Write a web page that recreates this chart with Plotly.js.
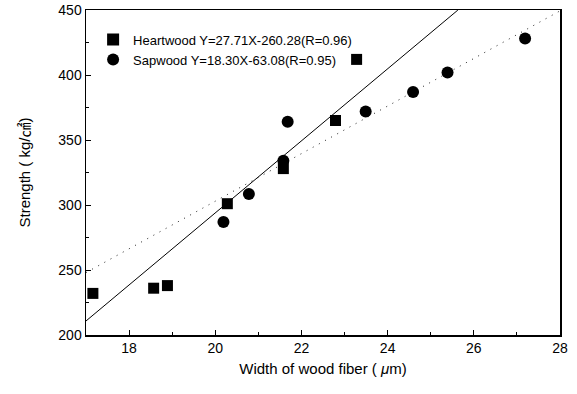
<!DOCTYPE html>
<html>
<head>
<meta charset="utf-8">
<script src="https://cdn.plot.ly/plotly-3.0.1.min.js"></script>
<style>html,body{margin:0;padding:0;background:#fff;}#chart{width:577px;height:394px;}</style>
</head>
<body>
<div id="chart"></div>
<script>
// Heartwood data
var heartX = [17.16, 18.57, 18.89, 20.28, 21.58, 22.79, 23.28];
var heartY = [232, 236, 238, 301, 328, 365, 412];
// Sapwood data
var sapX = [20.19, 20.78, 21.58, 21.68, 23.49, 24.59, 25.39, 27.19];
var sapY = [287, 308.5, 334, 364, 372, 387, 402, 428];
// Fit coefficients [slope, intercept] and line x-extent
var heartFit = [27.71, -260.28];
var sapFit = [18.30, -63.08];
var heartFitX = [17, 25.63];
var sapFitX = [17, 28];
var legendNames = ['Heartwood Y=27.71X-260.28(R=0.96)', 'Sapwood Y=18.30X-63.08(R=0.95)'];

function fitY(fit, xs){ return xs.map(function(x){ return fit[0]*x + fit[1]; }); }

var font = 'Arial, "Liberation Sans", "Noto Sans CJK KR", sans-serif';

var traces = [
  {x: heartFitX, y: fitY(heartFit, heartFitX), mode: 'lines', showlegend: false,
   line: {color: '#000', width: 1}, hoverinfo: 'skip'},
  {x: sapFitX, y: fitY(sapFit, sapFitX), mode: 'lines', showlegend: false,
   line: {color: '#222', width: 1, dash: '1px,6px'}, hoverinfo: 'skip'},
  {x: heartX, y: heartY, mode: 'markers', name: legendNames[0],
   marker: {symbol: 'square', size: 11, color: '#000'}},
  {x: sapX, y: sapY, mode: 'markers', name: legendNames[1],
   marker: {symbol: 'circle', size: 12, color: '#000'}}
];

var layout = {
  width: 577, height: 394,
  margin: {l: 86, r: 17, t: 10, b: 59},
  paper_bgcolor: '#fff', plot_bgcolor: '#fff',
  font: {family: font, color: '#000', size: 13},
  showlegend: true,
  legend: {x: 0.015, y: 0.955, xanchor: 'left', yanchor: 'top', bgcolor: 'rgba(0,0,0,0)',
           font: {family: font, size: 13, color: '#000'}, tracegroupgap: 0, itemsizing: 'constant'},
  xaxis: {
    range: [17, 28], tickvals: [18, 20, 22, 24, 26, 28], ticks: 'inside', ticklen: 5,
    tickcolor: '#000', showline: true, linecolor: '#000', linewidth: 1.5, mirror: true,
    showgrid: false, zeroline: false, tickfont: {size: 14},
    minor: {tickvals: [19, 21, 23, 25, 27], ticks: 'inside', ticklen: 3, tickcolor: '#000'},
    title: {text: 'Width of wood fiber ( <i>μ</i>m)', font: {size: 15}, standoff: 8}
  },
  yaxis: {
    range: [200, 450], tickvals: [200, 250, 300, 350, 400, 450], ticks: 'inside', ticklen: 5,
    tickcolor: '#000', showline: true, linecolor: '#000', linewidth: 1.5, mirror: true,
    showgrid: false, zeroline: false, tickfont: {size: 14},
    minor: {tickvals: [225, 275, 325, 375, 425], ticks: 'inside', ticklen: 3, tickcolor: '#000'},
    title: {text: 'Strength ( kg/㎠)', font: {size: 15}, standoff: 24}
  }
};

Plotly.newPlot('chart', traces, layout, {displayModeBar: false, staticPlot: true});
</script>
</body>
</html>
